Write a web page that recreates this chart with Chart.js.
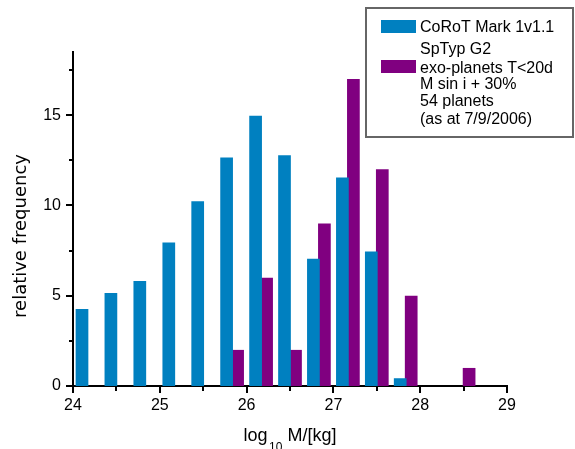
<!DOCTYPE html>
<html>
<head>
<meta charset="utf-8">
<script src="https://cdn.jsdelivr.net/npm/chart.js@4/dist/chart.umd.min.js"></script>
<style>
  html, body { margin: 0; padding: 0; background: #fff; }
  #wrap { width: 575px; height: 449px; position: relative; }
</style>
</head>
<body>
<div id="wrap"><canvas id="c" width="575" height="449"></canvas></div>
<script>
// ---- data ----
const binCenters = [24.167, 24.5, 24.833, 25.167, 25.5, 25.833, 26.167, 26.5, 26.833, 27.167, 27.5, 27.833, 28.167, 28.5];
const corotValues = [4.26, 5.15, 5.81, 7.95, 10.24, 12.66, 14.97, 12.78, 7.05, 11.55, 7.45, 0.43, null, null];
const exoValues = [null, null, null, null, null, 2, 6, 2, 9, 17, 12, 5, null, 1];
const xTickValues = [24, 25, 26, 27, 28, 29];
const xMinorTickValues = [24.5, 25.5, 26.5, 27.5, 28.5];
const yTickValues = [0, 5, 10, 15];
const yMinorTickValues = [2.5, 7.5, 12.5, 17.5];
const corotLegend = ['CoRoT Mark 1v1.1', 'SpTyp G2'];
const exoLegend = ['exo-planets T<20d', 'M sin i + 30%', '54 planets', '(as at 7/9/2006)'];
const yTitle = 'relative frequency';
const xTitleMain = 'log';
const xTitleSub = '10';
const xTitleRest = 'M/[kg]';

const BLUE = 'rgb(0,128,192)';
const PURPLE = 'rgb(128,0,128)';
const SANS = '"Liberation Sans", Arial, sans-serif';

function toPoints(values) {
  const pts = [];
  values.forEach((v, i) => { if (v !== null) pts.push({ x: binCenters[i], y: v }); });
  return pts;
}

const decorPlugin = {
  id: 'decor',
  afterDraw(chart) {
    const ctx = chart.ctx;
    const xs = chart.scales.x, ys = chart.scales.y;
    const area = chart.chartArea;
    ctx.save();
    ctx.strokeStyle = '#000';
    ctx.lineWidth = 2;
    // y ticks
    const yAxisX = area.left;
    yTickValues.forEach(v => {
      const p = Math.round(ys.getPixelForValue(v));
      ctx.beginPath(); ctx.moveTo(yAxisX, p); ctx.lineTo(yAxisX - 7, p); ctx.stroke();
    });
    yMinorTickValues.forEach(v => {
      const p = Math.round(ys.getPixelForValue(v));
      ctx.beginPath(); ctx.moveTo(yAxisX, p); ctx.lineTo(yAxisX - 4, p); ctx.stroke();
    });
    // x ticks
    const xAxisY = area.bottom;
    xTickValues.forEach(v => {
      const p = Math.round(xs.getPixelForValue(v));
      ctx.beginPath(); ctx.moveTo(p, xAxisY); ctx.lineTo(p, xAxisY + 7); ctx.stroke();
    });
    xMinorTickValues.forEach(v => {
      const p = Math.round(xs.getPixelForValue(v));
      ctx.beginPath(); ctx.moveTo(p, xAxisY); ctx.lineTo(p, xAxisY + 5); ctx.stroke();
    });

    // y title
    ctx.fillStyle = '#000';
    ctx.save();
    ctx.translate(26, 236);
    ctx.rotate(-Math.PI / 2);
    ctx.font = '18px "DejaVu Sans", sans-serif';
    ctx.textAlign = 'center';
    ctx.textBaseline = 'alphabetic';
    ctx.fillText(yTitle, 0, 0);
    ctx.restore();

    // x title with subscript
    ctx.textBaseline = 'alphabetic';
    ctx.textAlign = 'left';
    ctx.font = '18px ' + SANS;
    const wMain = ctx.measureText(xTitleMain).width;
    const wRest = ctx.measureText(xTitleRest).width;
    const wSpace = ctx.measureText(' ').width;
    ctx.font = '12px ' + SANS;
    const wSub = ctx.measureText(xTitleSub).width;
    const total = wMain + 1.5 + wSub + wSpace + wRest;
    let tx = (area.left + area.right) / 2 - total / 2;
    ctx.font = '18px ' + SANS;
    ctx.fillText(xTitleMain, tx, 441);
    tx += wMain + 1.5;
    ctx.font = '12px ' + SANS;
    ctx.fillText(xTitleSub, tx, 451);
    tx += wSub + wSpace;
    ctx.font = '18px ' + SANS;
    ctx.fillText(xTitleRest, tx, 441);

    // legend
    ctx.fillStyle = '#fff';
    ctx.fillRect(366, 8, 207, 129);
    ctx.strokeStyle = '#666';
    ctx.lineWidth = 2;
    ctx.strokeRect(366, 8, 207, 129);
    ctx.fillStyle = BLUE;
    ctx.fillRect(381, 20, 35, 13);
    ctx.fillStyle = PURPLE;
    ctx.fillRect(381, 60, 35, 13);
    ctx.fillStyle = '#000';
    ctx.font = '16px ' + SANS;
    const corotBase = [32.3, 54.3];
    corotLegend.forEach((t, i) => ctx.fillText(t, 420, corotBase[i]));
    const exoBase = [72.7, 89.3, 106, 124];
    exoLegend.forEach((t, i) => ctx.fillText(t, 420, exoBase[i]));
    ctx.restore();
  }
};

new Chart(document.getElementById('c'), {
  type: 'bar',
  data: {
    datasets: [
      { label: corotLegend.join(' '), data: toPoints(corotValues), backgroundColor: BLUE, borderWidth: 0 },
      { label: exoLegend.join(' '), data: toPoints(exoValues), backgroundColor: PURPLE, borderWidth: 0 }
    ]
  },
  options: {
    responsive: false,
    animation: false,
    devicePixelRatio: 1,
    categoryPercentage: 0.761,
    barPercentage: 1.155,
    layout: { padding: { top: 52, right: 68, left: 0, bottom: 0 } },
    plugins: { legend: { display: false }, tooltip: { enabled: false } },
    scales: {
      x: {
        type: 'linear',
        offset: false,
        min: 24, max: 29,
        z: 1,
        grid: { display: false, drawTicks: false },
        border: { display: true, color: '#000', width: 2 },
        afterBuildTicks(scale) { scale.ticks = xTickValues.map(v => ({ value: v })); },
        afterFit(scale) { scale.height = 63; },
        ticks: { color: '#000', font: { family: SANS, size: 16 }, padding: 10, maxRotation: 0, autoSkip: false }
      },
      y: {
        min: 0, max: 18.5,
        z: 1,
        grid: { display: false, drawTicks: false },
        border: { display: true, color: '#000', width: 2 },
        afterBuildTicks(scale) { scale.ticks = yTickValues.map(v => ({ value: v })); },
        afterFit(scale) { scale.width = 73; },
        ticks: { color: '#000', font: { family: SANS, size: 16 }, padding: 12 }
      }
    }
  },
  plugins: [decorPlugin]
});
</script>
</body>
</html>
